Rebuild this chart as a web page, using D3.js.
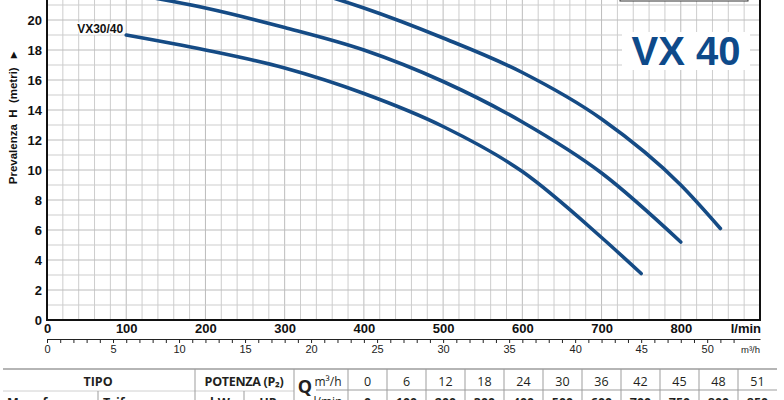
<!DOCTYPE html>
<html>
<head>
<meta charset="utf-8">
<script src="https://cdn.jsdelivr.net/npm/d3@7"></script>
<style>
  html, body { margin: 0; padding: 0; background: #fff; }
  svg { display: block; }
</style>
</head>
<body>
<svg id="chart" width="784" height="400"></svg>
<script>
// curve data (Q in l/min, H in metres)
const seriesNames = ["VX30/40", "VX40/40", "VX55/40"];
const q1 = [100, 200, 300, 400, 500, 600, 700, 750];
const h1 = [19.0, 18.0, 16.8, 15.1, 12.9, 9.9, 5.5, 3.1];
const q2 = [100, 200, 300, 400, 500, 600, 700, 800];
const h2 = [21.8, 20.8, 19.5, 18.0, 15.9, 13.2, 9.8, 5.2];
const q3 = [100, 200, 300, 400, 500, 600, 700, 800, 850];
const h3 = [24.6, 23.6, 22.4, 20.8, 18.8, 16.5, 13.4, 9.0, 6.1];

const lminTicks = [0, 100, 200, 300, 400, 500, 600, 700, 800];
const m3hLabels = [0, 5, 10, 15, 20, 25, 30, 35, 40, 45, 50];
const hTicks = [0, 2, 4, 6, 8, 10, 12, 14, 16, 18, 20];

const tableM3h = [0, 6, 12, 18, 24, 30, 36, 42, 45, 48, 51];
const tableLmin = [0, 100, 200, 300, 400, 500, 600, 700, 750, 800, 850];

const blue = "#154b85";
const svg = d3.select("#chart");

const x = d3.scaleLinear().domain([0, 900]).range([47, 760]);
const y = d3.scaleLinear().domain([0, 26]).range([320, -70]);
const m3 = d3.scaleLinear().domain([0, 54]).range([47, 760]);

// grid
const grid = svg.append("g");
grid.selectAll("line.v")
  .data(d3.range(20, 900, 20))
  .join("line")
  .attr("x1", d => x(d)).attr("x2", d => x(d))
  .attr("y1", y(26)).attr("y2", y(0))
  .attr("stroke", d => d % 100 === 0 ? "#bcbcbc" : "#cdcdcd")
  .attr("stroke-width", 1);
grid.selectAll("line.h")
  .data(d3.range(1, 27, 1))
  .join("line")
  .attr("x1", x(0)).attr("x2", x(900))
  .attr("y1", d => y(d)).attr("y2", d => y(d))
  .attr("stroke", d => d % 2 === 0 ? "#bcbcbc" : "#cdcdcd")
  .attr("stroke-width", 1);

// box at the top right (legend, cut off by the picture)
svg.append("rect")
  .attr("x", 620).attr("y", -30).attr("width", 128).attr("height", 31)
  .attr("fill", "#fff").attr("stroke", "#333").attr("stroke-width", 1);

// title
svg.append("rect")
  .attr("x", 622).attr("y", 32).attr("width", 128).attr("height", 38)
  .attr("fill", "#fff");
svg.append("text")
  .attr("x", 686).attr("y", 65)
  .attr("text-anchor", "middle")
  .attr("font-family", "Liberation Sans, Arial, sans-serif")
  .attr("font-weight", "bold")
  .attr("font-size", 40)
  .attr("fill", "#0e4a8a")
  .text("VX 40");

// curves
const series = [
  {name: seriesNames[0], pts: q1.map((q, i) => ({q, h: h1[i]}))},
  {name: seriesNames[1], pts: q2.map((q, i) => ({q, h: h2[i]}))},
  {name: seriesNames[2], pts: q3.map((q, i) => ({q, h: h3[i]}))}
];

const line = d3.line()
  .x(d => x(d.q))
  .y(d => y(d.h))
  .curve(d3.curveMonotoneX);

svg.append("g").selectAll("path")
  .data(series)
  .join("path")
  .attr("d", d => line(d.pts))
  .attr("fill", "none")
  .attr("stroke", blue)
  .attr("stroke-width", 3.6)
  .attr("stroke-linecap", "round");

// curve labels (only the one that falls inside the picture)
svg.append("g").selectAll("text")
  .data(series.filter(s => y(s.pts[0].h) > 20))
  .join("text")
  .attr("x", d => x(d.pts[0].q) - 3)
  .attr("y", d => y(d.pts[0].h) - 2)
  .attr("text-anchor", "end")
  .attr("font-family", "Liberation Sans Narrow, Arial Narrow, sans-serif")
  .attr("font-weight", "bold")
  .attr("font-size", 12)
  .attr("fill", "#111")
  .attr("paint-order", "stroke")
  .attr("stroke", "#fff").attr("stroke-width", 3)
  .text(d => d.name);

// frame lines
svg.append("line")
  .attr("x1", x(0)).attr("x2", x(0)).attr("y1", y(26)).attr("y2", y(0) + 1)
  .attr("stroke", "#111").attr("stroke-width", 2);
svg.append("line")
  .attr("x1", x(0)).attr("x2", x(900) + 1).attr("y1", y(0)).attr("y2", y(0))
  .attr("stroke", "#111").attr("stroke-width", 2);
svg.append("line")
  .attr("x1", x(900)).attr("x2", x(900)).attr("y1", y(26)).attr("y2", y(0))
  .attr("stroke", "#111").attr("stroke-width", 2);

// l/min axis
const xAxis = svg.append("g")
  .attr("transform", `translate(0,${y(0)})`)
  .call(d3.axisBottom(x).tickValues(lminTicks).tickSize(0).tickPadding(4));
xAxis.select(".domain").remove();
xAxis.selectAll("text")
  .attr("font-family", "Liberation Sans Narrow, Arial Narrow, sans-serif")
  .attr("font-weight", "bold")
  .attr("font-size", 13)
  .attr("fill", "#111");
svg.append("text")
  .attr("x", 761).attr("y", 333)
  .attr("text-anchor", "end")
  .attr("font-family", "Liberation Sans Narrow, Arial Narrow, sans-serif")
  .attr("font-weight", "bold")
  .attr("font-size", 13)
  .attr("fill", "#111")
  .text("l/min");

// y axis
const yAxis = svg.append("g")
  .attr("transform", `translate(${x(0)},0)`)
  .call(d3.axisLeft(y).tickValues(hTicks).tickSize(0).tickPadding(5));
yAxis.select(".domain").remove();
yAxis.selectAll("text")
  .attr("font-family", "Liberation Sans, Arial, sans-serif")
  .attr("font-weight", "bold")
  .attr("font-size", 13)
  .attr("fill", "#111");

svg.append("text")
  .attr("transform", "translate(17,118) rotate(-90)")
  .attr("text-anchor", "middle")
  .attr("font-family", "Liberation Sans, Arial, sans-serif")
  .attr("font-weight", "bold")
  .attr("font-size", 11.5)
  .attr("fill", "#111")
  .attr("xml:space", "preserve")
  .text("Prevalenza  H  (metri)   \u25B8");

// m3/h axis
const mAxis = svg.append("g")
  .attr("transform", "translate(0,339)")
  .call(d3.axisBottom(m3)
    .tickValues(d3.range(0, 53))
    .tickSizeInner(4).tickSizeOuter(0)
    .tickPadding(2)
    .tickFormat(d => m3hLabels.includes(d) ? d : ""));
mAxis.select(".domain").attr("stroke", "#222").attr("stroke-width", 1);
mAxis.selectAll(".tick line").attr("stroke", "#222");
mAxis.selectAll("text")
  .attr("font-family", "Liberation Sans Narrow, Arial Narrow, sans-serif")
  .attr("font-size", 11)
  .attr("fill", "#222");
svg.append("text")
  .attr("x", 760).attr("y", 353)
  .attr("text-anchor", "end")
  .attr("font-family", "Liberation Sans Narrow, Arial Narrow, sans-serif")
  .attr("font-size", 9.5)
  .attr("fill", "#222")
  .text("m³/h");

// table
const tbl = svg.append("g")
  .attr("font-family", "Open Sans, Noto Sans, sans-serif")
  .attr("fill", "#231f20");
const colW = 39, col0 = 348;
const colX = i => col0 + colW * i + colW / 2;
const lc = "#9d9d9d";

tbl.append("line").attr("x1", 3).attr("x2", 777).attr("y1", 369).attr("y2", 369)
  .attr("stroke", lc).attr("stroke-width", 1.5);
tbl.append("line").attr("x1", 3).attr("x2", 294).attr("y1", 391).attr("y2", 391)
  .attr("stroke", "#d0d0d0").attr("stroke-width", 1);
tbl.append("line").attr("x1", 316).attr("x2", 777).attr("y1", 390).attr("y2", 390)
  .attr("stroke", lc).attr("stroke-width", 1);
[195, 294].forEach(v => tbl.append("line")
  .attr("x1", v).attr("x2", v).attr("y1", 369).attr("y2", 400)
  .attr("stroke", lc).attr("stroke-width", 1));
[98, 244].forEach(v => tbl.append("line")
  .attr("x1", v).attr("x2", v).attr("y1", 391).attr("y2", 400)
  .attr("stroke", lc).attr("stroke-width", 1));
tbl.selectAll("line.col")
  .data(d3.range(0, tableM3h.length))
  .join("line")
  .attr("x1", i => col0 + colW * i).attr("x2", i => col0 + colW * i)
  .attr("y1", 369).attr("y2", 400)
  .attr("stroke", lc).attr("stroke-width", 1);

tbl.append("text").attr("x", 98).attr("y", 386).attr("text-anchor", "middle")
  .attr("font-weight", "bold").attr("font-size", 12.5).text("TIPO");
tbl.append("text").attr("x", 244).attr("y", 386).attr("text-anchor", "middle")
  .attr("font-weight", "bold").attr("font-size", 12.5).attr("letter-spacing", -0.3)
  .text("POTENZA (P₂)");
tbl.append("text").attr("x", 305).attr("y", 393).attr("text-anchor", "middle")
  .attr("font-weight", "bold").attr("font-size", 18).text("Q");
tbl.append("text").attr("x", 328).attr("y", 386).attr("text-anchor", "middle")
  .attr("font-size", 12).text("m³/h");
tbl.selectAll("text.m3")
  .data(tableM3h)
  .join("text")
  .attr("x", (d, i) => colX(i)).attr("y", 386)
  .attr("text-anchor", "middle").attr("font-size", 12.5)
  .text(d => d);

// second row, cut by the picture edge
tbl.append("text").attr("x", 7).attr("y", 407)
  .attr("font-weight", "bold").attr("font-size", 12.5).text("Monofase");
tbl.append("text").attr("x", 103).attr("y", 407)
  .attr("font-weight", "bold").attr("font-size", 12.5).text("Trifase");
tbl.append("text").attr("x", 220).attr("y", 407).attr("text-anchor", "middle")
  .attr("font-weight", "bold").attr("font-size", 12.5).text("kW");
tbl.append("text").attr("x", 268).attr("y", 407).attr("text-anchor", "middle")
  .attr("font-weight", "bold").attr("font-size", 12.5).text("HP");
tbl.append("text").attr("x", 328).attr("y", 406).attr("text-anchor", "middle")
  .attr("font-size", 12).text("l/min");
tbl.selectAll("text.lm")
  .data(tableLmin)
  .join("text")
  .attr("x", (d, i) => colX(i)).attr("y", 407)
  .attr("text-anchor", "middle").attr("font-weight", "bold").attr("font-size", 12.5)
  .text(d => d);
</script>
</body>
</html>
